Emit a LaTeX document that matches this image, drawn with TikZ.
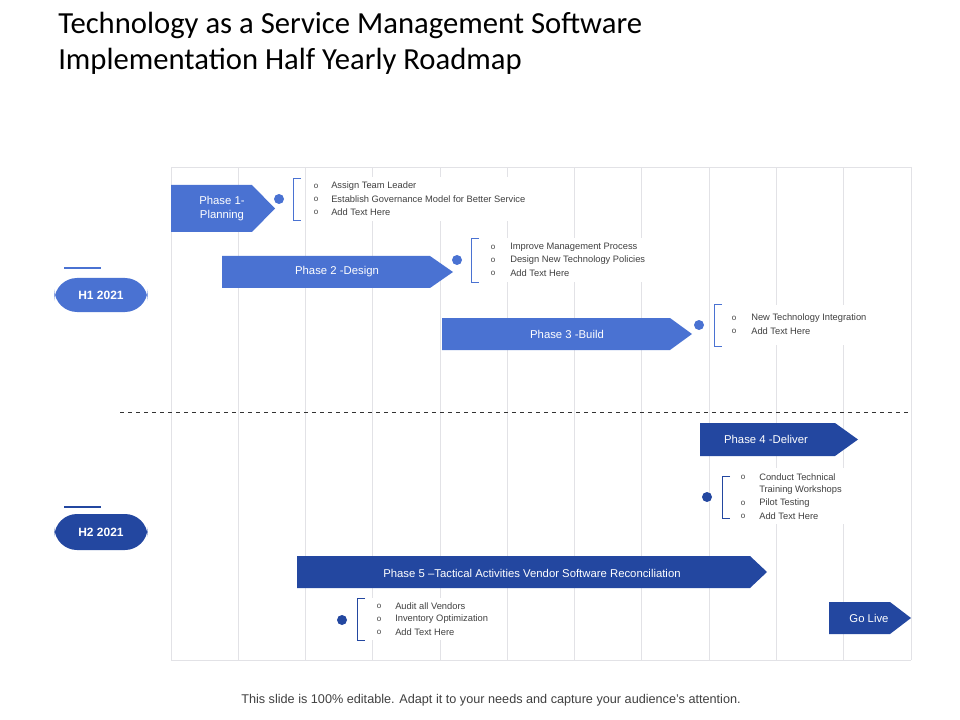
\documentclass[tikz,border=0pt]{standalone}
\usepackage{fontspec}
\setmainfont{Liberation Sans}
\newfontfamily\titlefont{Carlito}
\definecolor{lb}{HTML}{4A72D2}
\definecolor{db}{HTML}{2347A0}
\definecolor{gridc}{HTML}{E2E2E6}
\definecolor{txt}{HTML}{404040}
\tikzset{
  arr/.style={fill=#1,draw=none},
  lab/.style={text=white,font=\fontsize{8.5}{10}\selectfont,align=center},
  item/.style={anchor=west,text=txt,font=\fontsize{7}{8}\selectfont,inner sep=0pt},
  bul/.style={anchor=center,text=txt,font=\fontsize{6}{7}\selectfont,inner sep=0pt},
  brk/.style={draw=#1,line width=0.6pt},
}
\begin{document}
\begin{tikzpicture}[x=0.75pt,y=-0.75pt]
\useasboundingbox (0,0) rectangle (960,720);
% title
\node[anchor=north west,align=left,text=black,font=\titlefont\fontsize{23}{27}\selectfont,inner sep=0pt] (title) at (58,12) {Technology as a Service Management Software\\Implementation Half Yearly Roadmap};
% grid
\foreach \x in {171,238,305,372,440,507,574,641,709,776,843,911}
  \draw[gridc,line width=0.6pt] (\x,167) -- (\x,660);
\draw[gridc,line width=0.6pt] (171,167) -- (911,167);
\draw[gridc,line width=0.6pt] (171,660) -- (911,660);
\draw[dashed,line width=0.4pt,black!80] (120,412) -- (911,412);
% H pills
\draw[lb,line width=0.8pt] (64,268) -- (101,268);
\node[fill=lb,rounded corners=17pt,minimum width=70pt,minimum height=25.5pt,text=white,font=\bfseries\fontsize{9}{10}\selectfont] (h1) at (101,295) {H1 2021};
\draw[db,line width=0.8pt] (64,507) -- (101,507);
\node[fill=db,rounded corners=17pt,minimum width=70pt,minimum height=27pt,text=white,font=\bfseries\fontsize{9}{10}\selectfont] (h2) at (101,532) {H2 2021};
% arrows
\fill[lb] (171,185) -- (252,185) -- (275,208.5) -- (252,232) -- (171,232) -- cycle;
\node[lab] (p1) at (222,208.5) {Phase 1-\\Planning};
\fill[lb] (222,256) -- (430,256) -- (453,272) -- (430,288) -- (222,288) -- cycle;
\node[lab] (p2) at (337,272) {Phase 2 -Design};
\fill[lb] (442,318) -- (670,318) -- (692,334) -- (670,350) -- (442,350) -- cycle;
\node[lab] (p3) at (567,334) {Phase 3 -Build};
\fill[db] (700,423) -- (835,423) -- (858,439.5) -- (835,456) -- (700,456) -- cycle;
\node[lab] (p4) at (766,439.5) {Phase 4 -Deliver};
\fill[db] (297,556) -- (750,556) -- (767,572) -- (750,588) -- (297,588) -- cycle;
\node[lab] (p5) at (532,573) {Phase 5 --Tactical Activities Vendor Software Reconciliation};
\fill[db] (829,602) -- (890,602) -- (911,618) -- (890,634) -- (829,634) -- cycle;
\node[lab] (gl) at (869,618) {Go Live};
% item groups
% Phase 1
\fill[white] (306,177) rectangle (560,221);
\fill[lb] (279,199) circle (5);
\draw[brk=lb] (301,178) -- (293,178) -- (293,220) -- (301,220);
\foreach \y/\t in {186/Assign Team Leader,199/Establish Governance Model  for Better Service,212/Add Text Here}{
  \node[bul] at (316,\y) {o}; \node[item] at (331,\y) {\t};}
% Phase 2
\fill[white] (484,238) rectangle (668,282);
\fill[lb] (457,260) circle (5);
\draw[brk=lb] (479,238) -- (471,238) -- (471,282) -- (479,282);
\foreach \y/\t in {247/Improve Management Process,260/Design New Technology Policies,273/Add Text Here}{
  \node[bul] at (493,\y) {o}; \node[item] at (510,\y) {\t};}
% Phase 3
\fill[white] (725,305) rectangle (888,345);
\fill[lb] (699,325) circle (5);
\draw[brk=lb] (722,304) -- (714,304) -- (714,346) -- (722,346);
\foreach \y/\t in {318/New Technology Integration,331/Add Text Here}{
  \node[bul] at (734,\y) {o}; \node[item] at (751,\y) {\t};}
% Phase 4
\fill[white] (733,468) rectangle (860,524);
\fill[db] (707,497) circle (5);
\draw[brk=db] (730,476) -- (722,476) -- (722,518) -- (730,518);
\node[bul] at (743,477) {o}; \node[item] at (759,477) {Conduct Technical};
\node[item] at (759,490) {Training  Workshops};
\node[bul] at (743,503) {o}; \node[item] at (759,503) {Pilot  Testing};
\node[bul] at (743,516) {o}; \node[item] at (759,516) {Add Text Here};
% Phase 5
\fill[white] (369,598) rectangle (504,640);
\fill[db] (342,620) circle (5);
\draw[brk=db] (365,598) -- (357,598) -- (357,640) -- (365,640);
\foreach \y/\t in {606/Audit all Vendors,619/Inventory Optimization,632/Add Text Here}{
  \node[bul] at (379,\y) {o}; \node[item] at (395,\y) {\t};}
% footer
\node[text=txt,font=\fontsize{9.5}{11}\selectfont] (foot) at (491,700) {This slide is 100\% editable. Adapt it to your needs and capture your audience's attention.};
\end{tikzpicture}
\end{document}
